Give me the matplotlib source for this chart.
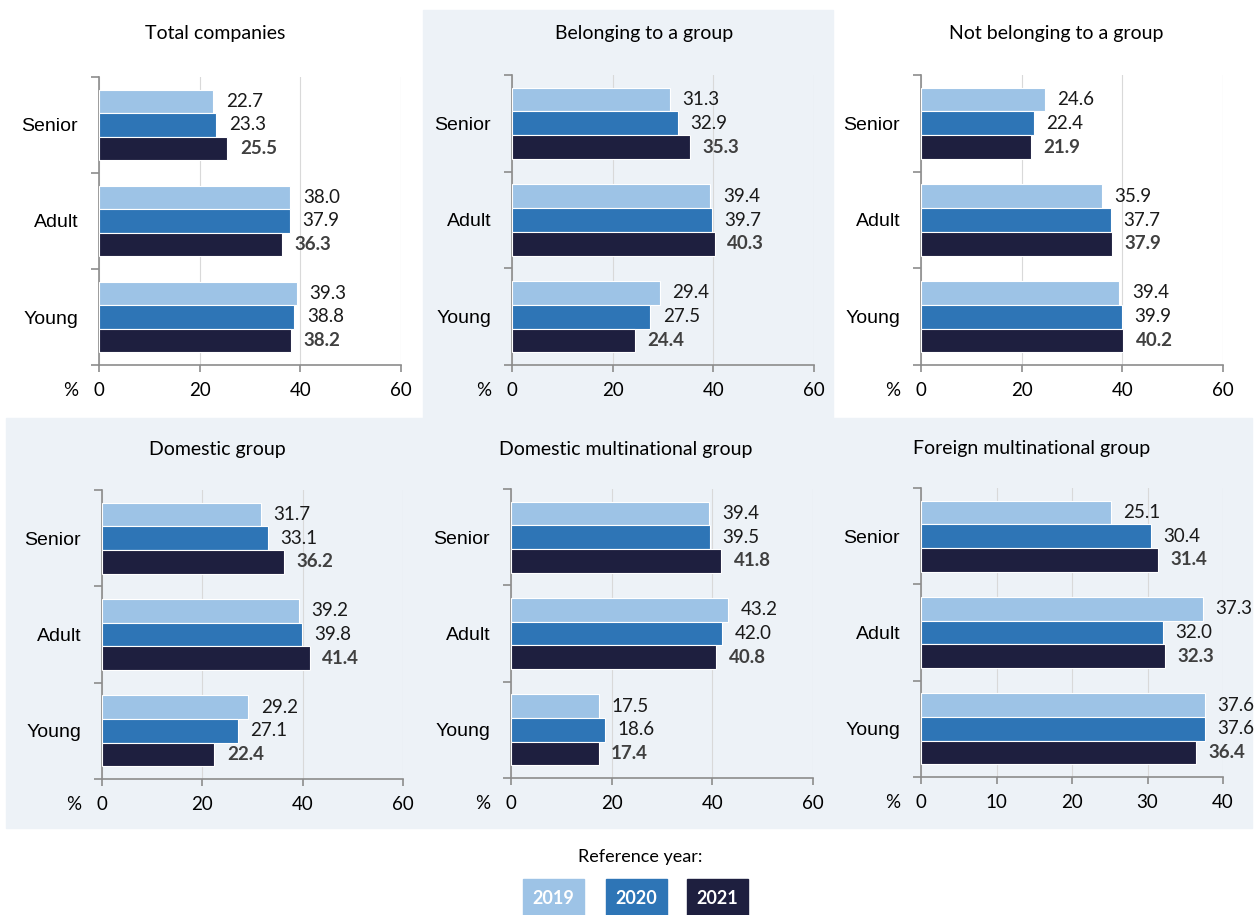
import numpy as np
import matplotlib
matplotlib.use('Agg')
import matplotlib.pyplot as plt
from matplotlib.patches import Rectangle

# Share of companies by age class, three reference years
categories = ['Senior', 'Adult', 'Young']
years = ['2019', '2020', '2021']

titles = ['Total companies', 'Belonging to a group', 'Not belonging to a group',
          'Domestic group', 'Domestic multinational group', 'Foreign multinational group']

# values per panel: rows = years (2019, 2020, 2021), columns = categories
total_companies = [[22.7, 38.0, 39.3], [23.3, 37.9, 38.8], [25.5, 36.3, 38.2]]
belonging_group = [[31.3, 39.4, 29.4], [32.9, 39.7, 27.5], [35.3, 40.3, 24.4]]
not_belonging = [[24.6, 35.9, 39.4], [22.4, 37.7, 39.9], [21.9, 37.9, 40.2]]
domestic_group = [[31.7, 39.2, 29.2], [33.1, 39.8, 27.1], [36.2, 41.4, 22.4]]
domestic_multi = [[39.4, 43.2, 17.5], [39.5, 42.0, 18.6], [41.8, 40.8, 17.4]]
foreign_multi = [[25.1, 37.3, 37.6], [30.4, 32.0, 37.6], [31.4, 32.3, 36.4]]

panel_data = [total_companies, belonging_group, not_belonging,
              domestic_group, domestic_multi, foreign_multi]
x_ticks = [[0, 20, 40, 60]] * 5 + [[0, 10, 20, 30, 40]]

colors = ['#9DC3E6', '#2E75B6', '#1E1F3F']
bg_color = '#EDF2F7'
W, H = 1258, 915

# axes boxes in pixels: left, right, top, bottom
boxes = [(99, 401, 77, 365), (512, 814, 75, 365), (921, 1223, 75, 365),
         (102, 403, 490, 779), (511, 813, 489, 778), (921, 1223, 488, 777)]
title_pos = [(215, 33), (644, 33), (1056, 33), (217, 450), (626, 450), (1032, 449)]

plt.rcParams['font.family'] = ['Lato', 'DejaVu Sans']

fig = plt.figure(figsize=(W / 100, H / 100), dpi=100)
fig.patch.set_facecolor('white')

# shaded panel backgrounds
fig.patches.append(Rectangle((423 / W, 1 - 418 / H), 410 / W, 408 / H,
                             transform=fig.transFigure, color=bg_color, zorder=-5))
fig.patches.append(Rectangle((6 / W, 1 - 828 / H), 1246 / W, 410 / H,
                             transform=fig.transFigure, color=bg_color, zorder=-5))

bar_h = 0.245
pos = np.arange(len(categories))

for k, (data, box) in enumerate(zip(panel_data, boxes)):
    l, r, t, b = box
    ax = fig.add_axes([l / W, 1 - b / H, (r - l) / W, (b - t) / H])
    ax.set_facecolor('none')
    ticks = x_ticks[k]
    ax.set_xlim(0, ticks[-1])
    ax.set_ylim(2.5, -0.5)

    for i, yr in enumerate(years):
        vals = data[i]
        ax.barh(pos + (i - 1) * bar_h, vals, height=bar_h, color=colors[i],
                edgecolor='white', linewidth=0.8, zorder=3)
        for p, v in zip(pos, vals):
            ax.annotate(f'{v:.1f}', (v, p + (i - 1) * bar_h), xytext=(9, 0),
                        textcoords='offset points', ha='left', va='center',
                        fontsize=13.5, color='#404040' if i == 2 else '#1A1A1A',
                        fontweight='bold' if i == 2 else 'normal')

    # y axis: boundary ticks, category names in between
    ax.set_yticks([-0.5, 0.5, 1.5, 2.5])
    ax.set_yticklabels([])
    ax.tick_params(axis='y', which='major', length=6, color='#8C8C8C', width=1.2)
    ax.set_yticks(pos, minor=True)
    ax.set_yticklabels(categories, minor=True, fontsize=14, family='Liberation Sans')
    ax.tick_params(axis='y', which='minor', length=0, pad=15)

    ax.set_xticks(ticks)
    ax.set_xticklabels([str(v) for v in ticks], fontsize=13.5)
    ax.tick_params(axis='x', length=5, color='#8C8C8C', width=1.2, pad=7)
    ax.grid(axis='x', color='#D9D9D9', linewidth=0.8, zorder=0)
    for s in ['top', 'right']:
        ax.spines[s].set_visible(False)
    for s in ['left', 'bottom']:
        ax.spines[s].set_color('#8C8C8C')
        ax.spines[s].set_linewidth(1.2)
    ax.text(-0.093, -0.087, '%', transform=ax.transAxes, fontsize=13.5,
            ha='center', va='center')

    tx, ty = title_pos[k]
    fig.text(tx / W, 1 - ty / H, titles[k], fontsize=14, ha='center', va='center')

# legend boxes for the reference years
fig.text(640 / W, 1 - 857 / H, 'Reference year:', fontsize=13, ha='center', va='center')
for i, yr in enumerate(years):
    x0 = [523, 606, 687][i]
    fig.patches.append(Rectangle((x0 / W, 0), 61 / W, 36 / H,
                                 transform=fig.transFigure, color=colors[i]))
    fig.text((x0 + 30.5) / W, 17 / H, yr, color='white', fontsize=13,
             fontweight='bold', ha='center', va='center')

fig.savefig('out.png', dpi=100, facecolor=fig.get_facecolor())
